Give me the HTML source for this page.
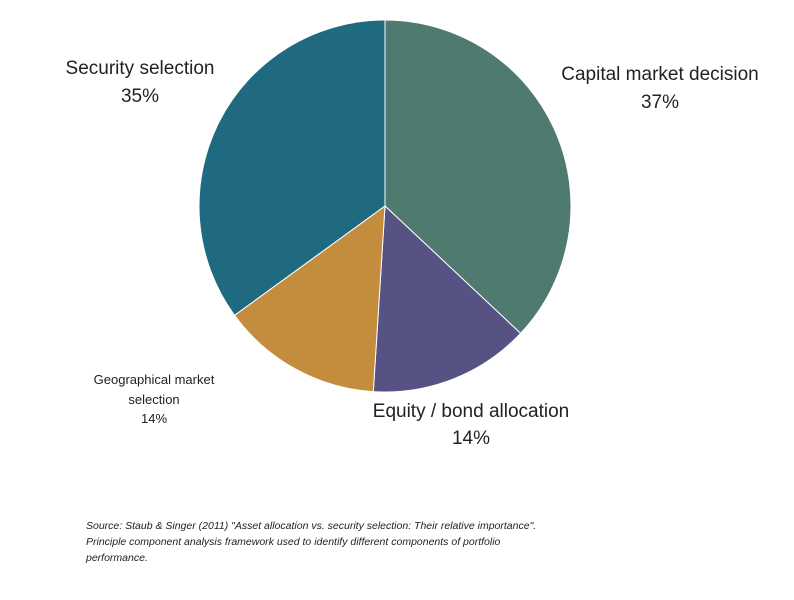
<!DOCTYPE html>
<html><head><meta charset="utf-8"><style>
body{margin:0;width:794px;height:600px;background:#fff;overflow:hidden;font-family:"Liberation Sans",sans-serif;}
svg{position:absolute;left:0;top:0}
</style></head><body>
<svg width="794" height="600">
<g id="slices"></g>
<g fill="#222" font-weight="300">
<text x="660" y="80" font-size="19" text-anchor="middle">Capital market decision</text>
<text x="660" y="108" font-size="19" text-anchor="middle">37%</text>
<text x="471" y="417" font-size="19" text-anchor="middle">Equity / bond allocation</text>
<text x="471" y="444" font-size="19" text-anchor="middle">14%</text>
<text x="154" y="384" font-size="13" text-anchor="middle">Geographical market</text>
<text x="154" y="404" font-size="13" text-anchor="middle">selection</text>
<text x="154" y="423" font-size="13" text-anchor="middle">14%</text>
<text x="140" y="74" font-size="19" text-anchor="middle">Security selection</text>
<text x="140" y="102" font-size="19" text-anchor="middle">35%</text>
</g>
<g font-size="10.5" font-style="italic" fill="#222">
<text x="86" y="529">Source: Staub &amp; Singer (2011) "Asset allocation vs. security selection: Their relative importance".</text>
<text x="86" y="545">Principle component analysis framework used to identify different components of portfolio</text>
<text x="86" y="561">performance.</text>
</g>
</svg>
<script>
const categories=["Capital market decision","Equity / bond allocation","Geographical market selection","Security selection"];
const values=[37,14,14,35];
const colors=["#4e7a6f","#565384","#c48d3d","#1f6a80"];
const cx=385,cy=206,r=186;
const g=document.getElementById('slices');
const total=values.reduce((a,b)=>a+b,0);
let acc=0;
values.forEach((v,i)=>{
 const a0=acc/total*2*Math.PI; acc+=v; const a1=acc/total*2*Math.PI;
 const x0=cx+r*Math.sin(a0),y0=cy-r*Math.cos(a0),x1=cx+r*Math.sin(a1),y1=cy-r*Math.cos(a1);
 const p=document.createElementNS('http://www.w3.org/2000/svg','path');
 p.setAttribute('d',`M${cx},${cy}L${x0},${y0}A${r},${r} 0 ${a1-a0>Math.PI?1:0} 1 ${x1},${y1}Z`);
 p.setAttribute('fill',colors[i]);p.setAttribute('stroke','#fff');p.setAttribute('stroke-width','1');
 
 
 g.appendChild(p);
});
</script>
</body></html>
